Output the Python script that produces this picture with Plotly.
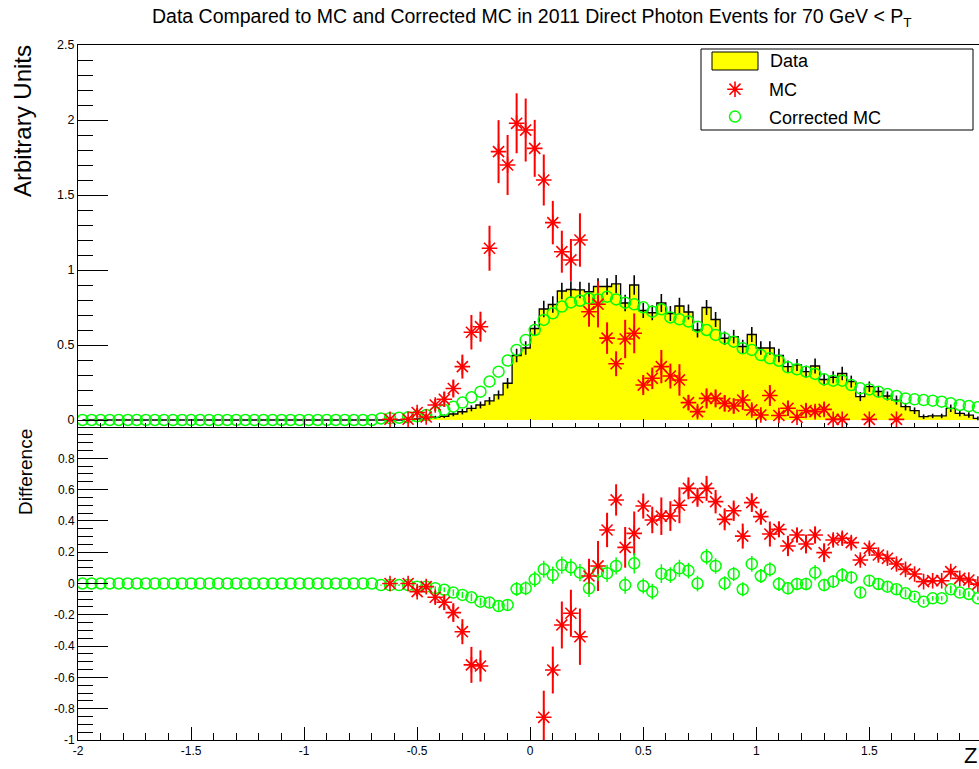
import plotly.graph_objects as go

# ---------------- data (100 bins of width 0.04 from -2 to 2) ----------------
bin_centers = [round(-1.98 + 0.04 * i, 2) for i in range(100)]

data_vals = [0.0] * 36 + [
    0.004, 0.008, 0.012, 0.018, 0.025, 0.04, 0.055, 0.078, 0.10, 0.127,
    0.167, 0.245, 0.43, 0.48, 0.61, 0.74, 0.77, 0.86, 0.87, 0.867,
    0.855, 0.89, 0.89, 0.907, 0.78, 0.90, 0.73, 0.715, 0.78, 0.71,
    0.76, 0.72, 0.60, 0.75, 0.67, 0.545, 0.556, 0.49, 0.57, 0.48,
    0.48, 0.43, 0.356, 0.367, 0.322, 0.36, 0.27, 0.285, 0.31, 0.256,
    0.156, 0.222, 0.19, 0.16, 0.133, 0.089, 0.062, 0.022, 0.027, 0.027,
    0.078, 0.044, 0.033, 0.011]
data_err = [0.0] * 36 + [
    0.005, 0.007, 0.009, 0.01, 0.012, 0.015, 0.018, 0.02, 0.023, 0.026,
    0.03, 0.035, 0.045, 0.045, 0.05, 0.055, 0.055, 0.055, 0.055, 0.055,
    0.06, 0.055, 0.055, 0.06, 0.055, 0.065, 0.05, 0.05, 0.06, 0.05,
    0.055, 0.05, 0.05, 0.05, 0.05, 0.045, 0.045, 0.045, 0.05, 0.045,
    0.045, 0.045, 0.04, 0.04, 0.04, 0.05, 0.04, 0.04, 0.045, 0.04,
    0.03, 0.035, 0.035, 0.03, 0.03, 0.025, 0.022, 0.015, 0.015, 0.015,
    0.025, 0.02, 0.018, 0.012]

mc_vals = [None] * 34 + [
    0.005, None, 0.005, 0.05, 0.02, 0.10, 0.138, 0.21, 0.356, 0.585,
    0.622, 1.145, 1.789, 1.70, 1.978, 1.933, 1.811, 1.60, 1.316, 1.122,
    1.067, 1.20, 0.722, 0.772, 0.546, 0.375, 0.54, 0.578, 0.233, 0.278,
    0.356, 0.293, 0.267, 0.116, 0.056, 0.144, 0.144, 0.111, 0.093, 0.133,
    0.067, 0.033, 0.163, 0.03, 0.078, 0.018, 0.063, 0.056, 0.071, 0.004,
    0.004, None, None, 0.004, None, None, 0.004] + [None] * 9
mc_err = [0.0] * 34 + [
    0.01, 0.0, 0.01, 0.03, 0.02, 0.04, 0.05, 0.06, 0.08, 0.115,
    0.10, 0.15, 0.21, 0.20, 0.20, 0.21, 0.19, 0.17, 0.145, 0.14,
    0.14, 0.178, 0.10, 0.155, 0.105, 0.083, 0.128, 0.133, 0.067, 0.072,
    0.111, 0.083, 0.105, 0.05, 0.04, 0.067, 0.06, 0.055, 0.05, 0.067,
    0.04, 0.03, 0.07, 0.03, 0.05, 0.02, 0.045, 0.04, 0.045, 0.005,
    0.005, 0.0, 0.0, 0.005, 0.0, 0.0, 0.005] + [0.0] * 9

corr_vals = [0.0] * 33 + [
    0.01, 0.012, 0.015, 0.018, 0.025, 0.033, 0.049, 0.067, 0.089, 0.116,
    0.151, 0.189, 0.256, 0.322, 0.396, 0.467, 0.533, 0.60, 0.667, 0.711,
    0.756, 0.784, 0.795, 0.81, 0.804, 0.822, 0.804, 0.782, 0.771, 0.751,
    0.722, 0.738, 0.684, 0.671, 0.656, 0.622, 0.60, 0.567, 0.544, 0.522,
    0.478, 0.467, 0.433, 0.411, 0.395, 0.351, 0.338, 0.322, 0.307, 0.271,
    0.262, 0.262, 0.233, 0.211, 0.204, 0.189, 0.173, 0.16, 0.144, 0.138,
    0.133, 0.129, 0.122, 0.111, 0.10, 0.093, 0.085]

diff_mc = [None] * 34 + [
    0.0, None, 0.0, -0.052, -0.02, -0.088, -0.12, -0.186, -0.308, -0.52,
    -0.527, None, None, None, None, None, None, -0.855, -0.553, -0.265,
    -0.19, -0.34, 0.048, 0.112, 0.342, 0.534, 0.231, 0.32, 0.495, 0.406,
    0.43, 0.431, 0.5, 0.608, 0.55, 0.608, 0.523, 0.41, 0.465, 0.303,
    0.517, 0.427, 0.316, 0.346, 0.24, 0.31, 0.252, 0.31, 0.197, 0.278,
    0.289, 0.261, 0.15, 0.225, 0.182, 0.161, 0.125, 0.09, 0.061, 0.012,
    0.018, 0.018, 0.076, 0.033, 0.022, -0.004]
diff_mc_err = [0.0] * 34 + [
    0.01, 0.0, 0.01, 0.03, 0.02, 0.04, 0.05, 0.06, 0.08, 0.115,
    0.10, 0.0, 0.0, 0.0, 0.0, 0.0, 0.0, 0.17, 0.15, 0.15,
    0.15, 0.18, 0.11, 0.16, 0.11, 0.10, 0.13, 0.14, 0.08, 0.085,
    0.12, 0.095, 0.115, 0.07, 0.06, 0.08, 0.075, 0.07, 0.065, 0.08,
    0.06, 0.05, 0.08, 0.05, 0.065, 0.045, 0.06, 0.055, 0.06, 0.04,
    0.04, 0.04, 0.03, 0.035, 0.035, 0.03, 0.03, 0.025, 0.022, 0.015,
    0.015, 0.015, 0.025, 0.02, 0.018, 0.012]

diff_corr = [0.0] * 33 + [
    -0.01, -0.01, -0.01, -0.01, -0.02, -0.02, -0.03, -0.04, -0.058, -0.073,
    -0.088, -0.116, -0.122, -0.144, -0.137, -0.035, -0.031, 0.027, 0.091, 0.054,
    0.118, 0.103, 0.069, -0.031, 0.076, 0.065, 0.112, -0.01, 0.129, -0.016,
    -0.052, 0.063, 0.054, 0.097, 0.082, 0.0, 0.171, 0.112, 0.001, 0.061,
    -0.037, 0.125, 0.048, 0.09, -0.003, -0.031, -0.003, -0.003, 0.069, -0.01,
    0.012, 0.054, 0.039, -0.058, 0.018, -0.003, -0.02, -0.037, -0.063, -0.084,
    -0.116, -0.095, -0.095, -0.037, -0.058, -0.067, -0.095]
diff_corr_err = [0.0] * 33 + [
    0.004, 0.005, 0.006, 0.007, 0.009, 0.01, 0.012, 0.015, 0.02, 0.02,
    0.025, 0.025, 0.03, 0.03, 0.035, 0.045, 0.045, 0.05, 0.055, 0.055,
    0.055, 0.055, 0.055, 0.055, 0.06, 0.055, 0.055, 0.055, 0.065, 0.05,
    0.05, 0.06, 0.05, 0.055, 0.05, 0.05, 0.05, 0.05, 0.045, 0.045,
    0.045, 0.05, 0.045, 0.045, 0.045, 0.04, 0.04, 0.04, 0.05, 0.04,
    0.04, 0.045, 0.04, 0.03, 0.035, 0.035, 0.03, 0.03, 0.025, 0.022,
    0.015, 0.015, 0.015, 0.025, 0.02, 0.018, 0.012]

x_tick_vals = [-2, -1.5, -1, -0.5, 0, 0.5, 1, 1.5]
x_tick_text = ["-2", "-1.5", "-1", "-0.5", "0", "0.5", "1", "1.5"]
top_tick_vals = [0, 0.5, 1, 1.5, 2, 2.5]
top_tick_text = ["0", "0.5", "1", "1.5", "2", "2.5"]
bot_tick_vals = [-1, -0.8, -0.6, -0.4, -0.2, 0, 0.2, 0.4, 0.6, 0.8]
bot_tick_text = ["-1", "-0.8", "-0.6", "-0.4", "-0.2", "0", "0.2", "0.4", "0.6", "0.8"]

for arr in (data_vals, data_err, mc_vals, mc_err, corr_vals, diff_mc, diff_mc_err,
            diff_corr, diff_corr_err):
    assert len(arr) == 100, len(arr)

# ---------------- layout geometry ----------------
W, H = 979, 769
L, R, T, B = 78, 0, 45, 29
PW = W - L - R
PH = H - T - B


def px_x(px):
    return (px - L) / PW


def px_y(py):
    return (H - B - py) / PH


split = px_y(427)
FONT = "Liberation Sans, Arial, Helvetica, sans-serif"
RED = "#ff0000"
GREEN = "#00ff00"

fig = go.Figure()

# Data histogram (top)
fig.add_trace(go.Scatter(
    x=bin_centers, y=data_vals, mode="lines",
    line=dict(shape="hvh", color="black", width=1.3),
    fill="tozeroy", fillcolor="#ffff00",
    xaxis="x2", yaxis="y2", showlegend=False, hoverinfo="skip"))
fig.add_trace(go.Scatter(
    x=bin_centers, y=[v if v > 0 else None for v in data_vals], mode="markers",
    marker=dict(size=1, color="rgba(0,0,0,0)"),
    error_y=dict(type="data", array=data_err, color="black", thickness=1.6, width=0),
    xaxis="x2", yaxis="y2", showlegend=False, hoverinfo="skip"))
# MC error bars (top)
fig.add_trace(go.Scatter(
    x=bin_centers, y=mc_vals, mode="markers",
    marker=dict(size=1, color="rgba(0,0,0,0)"),
    error_y=dict(type="data", array=mc_err, color=RED, thickness=2, width=0),
    xaxis="x2", yaxis="y2", showlegend=False, hoverinfo="skip"))
# Corrected MC (top)
fig.add_trace(go.Scatter(
    x=bin_centers, y=corr_vals, mode="markers", name="Corrected MC",
    marker=dict(symbol="circle-open", size=11, color=GREEN, line=dict(color=GREEN, width=1.5)),
    xaxis="x2", yaxis="y2", legendgroup="c", legendrank=3))
# MC (top)
fig.add_trace(go.Scatter(
    x=bin_centers, y=mc_vals, mode="markers", name="MC",
    marker=dict(symbol="asterisk-open", size=13, color=RED, line=dict(color=RED, width=1.6)),
    xaxis="x2", yaxis="y2", legendgroup="m", legendrank=2))

# Bottom panel: differences
fig.add_trace(go.Scatter(
    x=bin_centers, y=diff_mc, mode="markers",
    marker=dict(size=1, color="rgba(0,0,0,0)"),
    error_y=dict(type="data", array=diff_mc_err, color=RED, thickness=2, width=0),
    xaxis="x", yaxis="y", showlegend=False, hoverinfo="skip"))
fig.add_trace(go.Scatter(
    x=bin_centers, y=diff_corr, mode="markers",
    marker=dict(symbol="circle-open", size=11, color=GREEN, line=dict(color=GREEN, width=1.5)),
    error_y=dict(type="data", array=diff_corr_err, color=GREEN, thickness=1.5, width=0),
    xaxis="x", yaxis="y", showlegend=False, hoverinfo="skip"))
fig.add_trace(go.Scatter(
    x=bin_centers, y=diff_mc, mode="markers",
    marker=dict(symbol="asterisk-open", size=13, color=RED, line=dict(color=RED, width=1.6)),
    xaxis="x", yaxis="y", showlegend=False, hoverinfo="skip"))

xrange = [-2, -2 + PW / 226.1]
common_x = dict(range=xrange, showgrid=False, zeroline=False, showline=True,
                linecolor="black", linewidth=1, ticks="inside", tickcolor="black",
                tickwidth=1, tickmode="array", tickvals=x_tick_vals)
fig.update_layout(
    width=W, height=H,
    margin=dict(l=L, r=R, t=T, b=B, pad=0),
    paper_bgcolor="white", plot_bgcolor="white",
    font=dict(family=FONT, color="black"),
    xaxis=dict(**common_x, domain=[0, 1], anchor="y", ticklen=13,
               ticktext=x_tick_text, tickfont=dict(size=12),
               minor=dict(tickmode="linear", tick0=0, dtick=0.1, ticks="inside",
                          ticklen=7, tickcolor="black", tickwidth=1, showgrid=False)),
    xaxis2=dict(**common_x, domain=[0, 1], anchor="y2", matches="x", ticklen=8,
                showticklabels=False, mirror=True,
                minor=dict(tickmode="linear", tick0=0, dtick=0.1, ticks="inside",
                           ticklen=4, tickcolor="black", tickwidth=1, showgrid=False)),
    yaxis=dict(domain=[0, split], anchor="x", range=[-1, 1], showgrid=False,
               zeroline=False, showline=True, linecolor="black", linewidth=1,
               ticks="inside", ticklen=30, tickcolor="black", tickwidth=1,
               tickmode="array", tickvals=bot_tick_vals, ticktext=bot_tick_text,
               tickfont=dict(size=12),
               minor=dict(tickmode="linear", tick0=0, dtick=0.05, ticks="inside",
                          ticklen=15, tickcolor="black", tickwidth=1, showgrid=False)),
    yaxis2=dict(domain=[split, 1], anchor="x2", range=[-7 / 150, 2.5], showgrid=False,
                zeroline=False, showline=True, linecolor="black", linewidth=1,
                ticks="inside", ticklen=30, tickcolor="black", tickwidth=1,
                tickmode="array", tickvals=top_tick_vals, ticktext=top_tick_text,
                tickfont=dict(size=12.5),
                minor=dict(tickmode="linear", tick0=0, dtick=0.1, ticks="inside",
                           ticklen=15, tickcolor="black", tickwidth=1, showgrid=False)),
    legend=dict(x=px_x(701), xanchor="left", y=px_y(71), yanchor="top",
                bgcolor="rgba(0,0,0,0)", borderwidth=0, itemwidth=58,
                font=dict(size=18, family=FONT), tracegroupgap=1,
                traceorder="grouped"),
    showlegend=True,
    hovermode=False,
)

# legend frame and Data key
fig.add_shape(type="rect", xref="paper", yref="paper",
              x0=px_x(701), x1=px_x(973), y0=px_y(130), y1=px_y(49),
              line=dict(color="black", width=1), fillcolor="white", layer="above")
fig.add_shape(type="rect", xref="paper", yref="paper",
              x0=px_x(712), x1=px_x(758), y0=px_y(70), y1=px_y(52),
              line=dict(color="black", width=1), fillcolor="#ffff00", layer="above")
fig.add_annotation(text="Data", xref="paper", yref="paper", x=px_x(768), y=px_y(61),
                   xanchor="left", yanchor="middle", showarrow=False,
                   font=dict(size=18, family=FONT))

# titles
fig.add_annotation(
    text="Data Compared to MC and Corrected MC in 2011 Direct Photon Events for 70 GeV &lt; P<sub>T</sub>",
    xref="paper", yref="paper", x=px_x(150), y=px_y(18), xanchor="left", yanchor="middle",
    showarrow=False, font=dict(size=19.5, family=FONT))
fig.add_annotation(text="Arbitrary Units", xref="paper", yref="paper",
                   x=px_x(22), y=px_y(121), textangle=-90, xanchor="center", yanchor="middle",
                   showarrow=False, font=dict(size=24, family=FONT))
fig.add_annotation(text="Difference", xref="paper", yref="paper",
                   x=px_x(25), y=px_y(472), textangle=-90, xanchor="center", yanchor="middle",
                   showarrow=False, font=dict(size=19, family=FONT))
fig.add_annotation(text="Z", xref="paper", yref="paper",
                   x=px_x(962), y=px_y(755), xanchor="left", yanchor="middle",
                   showarrow=False, font=dict(size=22, family=FONT))

fig.write_html("out.html")
